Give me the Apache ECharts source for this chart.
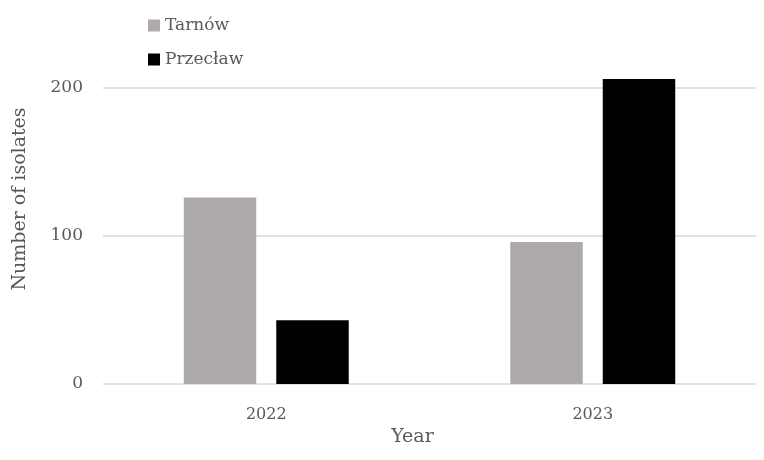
<!DOCTYPE html>
<html>
<head>
<meta charset="utf-8">
<script src="https://cdn.jsdelivr.net/npm/echarts@6/dist/echarts.min.js"></script>
<style>
  html, body { margin: 0; padding: 0; background: #fff; }
  #chart { width: 764px; height: 460px; }
</style>
</head>
<body>
<div id="chart"></div>
<script>
const years = ['2022', '2023'];
const tarnow = [126, 96];
const przeclaw = [43, 206];

const textColor = '#595959';
const fontFamily = 'DejaVu Serif';

const myChart = echarts.init(document.getElementById('chart'));
const option = {
  animation: false,
  textStyle: { fontFamily: fontFamily },
  legend: {
    orient: 'vertical',
    left: 143,
    top: 12,
    itemWidth: 12,
    itemHeight: 12,
    itemGap: 17,
    icon: 'rect',
    textStyle: { color: textColor, fontSize: 17, fontFamily: fontFamily },
    data: ['Tarnów', 'Przecław'],
  },
  grid: {
    left: 103,
    right: 8,
    top: 14,
    bottom: 76,
    containLabel: false,
  },
  xAxis: {
    type: 'category',
    data: years,
    name: 'Year',
    nameLocation: 'middle',
    nameGap: 44,
    nameTextStyle: { color: textColor, fontSize: 19, fontFamily: fontFamily, padding: [0, 34, 0, 0] },
    axisLine: { show: false },
    axisTick: { show: false },
    axisLabel: { color: textColor, fontSize: 16, margin: 23, fontFamily: fontFamily },
  },
  yAxis: {
    type: 'value',
    min: 0,
    max: 250,
    interval: 100,
    name: 'Number of isolates',
    nameLocation: 'middle',
    nameGap: 73,
    nameTextStyle: { color: textColor, fontSize: 19, fontFamily: fontFamily },
    axisLine: { show: false },
    axisTick: { show: false },
    axisLabel: { color: textColor, fontSize: 17, margin: 20, showMaxLabel: false, fontFamily: fontFamily },
    splitLine: { show: true, showMaxLine: false, lineStyle: { color: '#d9d9d9', width: 1.5 } },
  },
  series: [
    {
      name: 'Tarnów',
      type: 'bar',
      data: tarnow,
      barWidth: '22.2%',
      barGap: '27.6%',
      itemStyle: { color: '#aeaaaa' },
    },
    {
      name: 'Przecław',
      type: 'bar',
      data: przeclaw,
      barWidth: '22.2%',
      itemStyle: { color: '#000000' },
    },
  ],
};
myChart.setOption(option);
</script>
</body>
</html>
